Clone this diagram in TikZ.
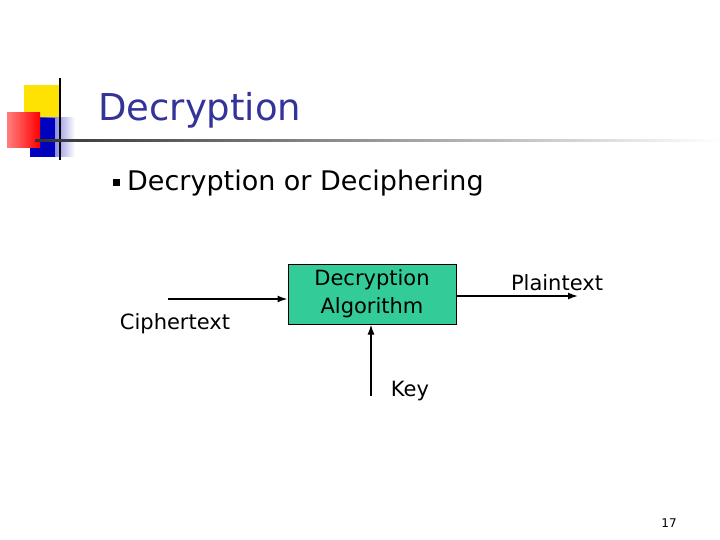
\documentclass[tikz,border=0pt]{standalone}
\usepackage{fontspec}
\setmainfont{DejaVu Sans}
\usetikzlibrary{arrows.meta}
\begin{document}
\begin{tikzpicture}[x=1pt,y=-1pt,
  lbl/.style={inner sep=0pt,font=\fontsize{21}{28}\selectfont},
  arr/.style={-{Latex[length=10pt,width=7pt]},line width=1.5pt}]
\useasboundingbox (0,0) rectangle (720,540);
\fill[white] (0,0) rectangle (720,540);
% logo
\fill[yellow!85!orange] (24,85) rectangle (60,120);
\shade[left color=blue!75!black, right color=white] (30,118) rectangle (75,157);
\fill[blue!75!black] (30,118) rectangle (55,157);
\shade[left color=red!50!white, right color=red] (7,113) rectangle (40,148);
\draw[line width=1.5pt] (60,78) -- (60,160);
\shade[left color=black!80, right color=white] (35,139.5) rectangle (720,141.5);
\node[anchor=west,inner sep=0pt,text={rgb,255:red,51;green,51;blue,153},font=\fontsize{37}{42}\selectfont] (title) at (98,110) {Decryption};
% bullet
\fill[black] (113,179) rectangle (120,186);
\node[anchor=west,lbl,font=\fontsize{27}{32}\selectfont] (b1) at (127,183) {Decryption or Deciphering};
% diagram
\node[draw,line width=1pt,fill={rgb,255:red,51;green,204;blue,153},minimum width=168pt,minimum height=60pt,align=center,lbl,inner sep=0pt] (alg) at (372,294) {Decryption\\Algorithm};
\coordinate (cin) at (168,299);
\draw[arr] (cin) -- (alg.west |- cin);
\coordinate (pout) at (578,296);
\draw[arr] (alg.east |- pout) -- (pout);
\coordinate (kin) at (371,396);
\draw[arr] (kin) -- (kin |- alg.south);
\node[lbl] (ct) at (175,324) {Ciphertext};
\node[lbl] (pt) at (557,283) {Plaintext};
\node[lbl] (key) at (410,391) {Key};
\node[inner sep=0pt,font=\fontsize{12}{14}\selectfont] (pg) at (669,523) {17};
\end{tikzpicture}
\end{document}
